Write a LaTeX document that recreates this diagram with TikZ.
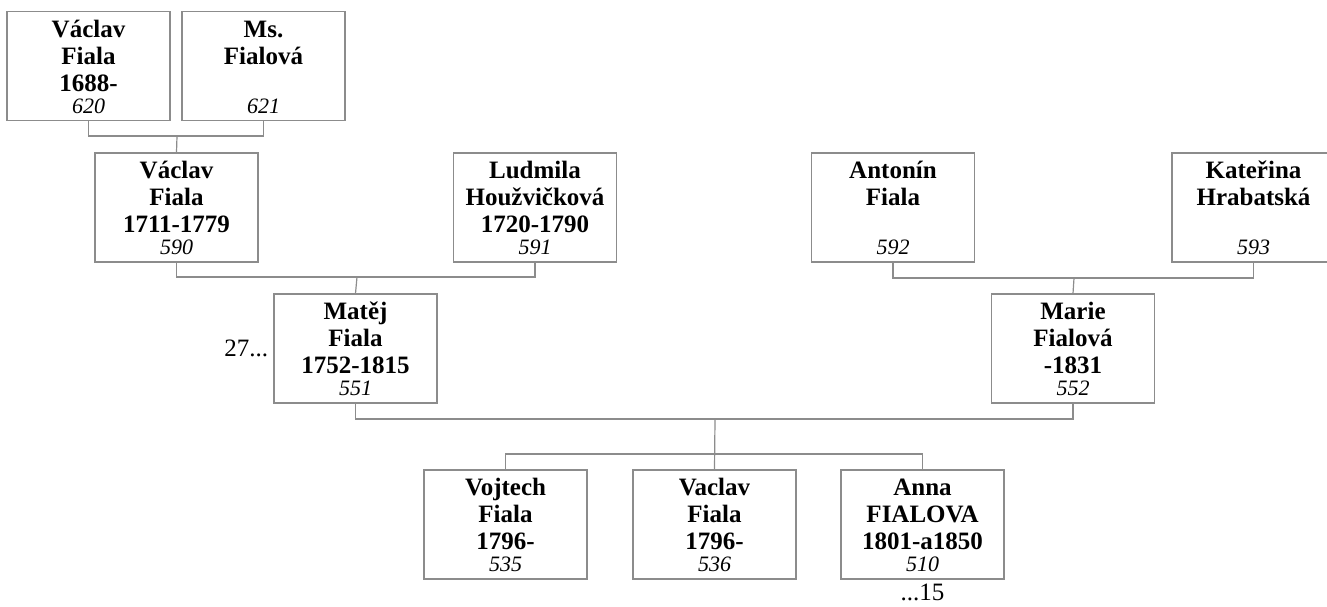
\documentclass[tikz,border=0pt]{standalone}
\usepackage{fontspec}
\setmainfont{Liberation Serif}
\usetikzlibrary{positioning}
\definecolor{cLine}{HTML}{8C8C8C}
\tikzset{
  person/.style={draw=cLine,line width=1.2pt,minimum width=163pt,
                 minimum height=109pt,inner sep=0pt,align=center,
                 font=\fontsize{25}{27}\selectfont\bfseries},
  link/.style={cLine,line width=1.2pt},
  note/.style={inner sep=0pt,font=\fontsize{25}{27}\selectfont},
}
\newcommand{\pers}[4]{\strut#1\\#2\\#3\\[-5pt]%
  {\mdseries\itshape\fontsize{22}{22}\selectfont#4}}

\begin{document}
\begin{tikzpicture}[x=1pt,y=-1pt]
  \useasboundingbox (0,0) rectangle (1327,606);
  % oldest couple
  \node[person] (v620) at (88.5,66)  {\pers{Václav}{Fiala}{1688-}{620}};
  \node[person] (m621) at (263.5,66) {\pers{Ms.}{Fialová}{}{621}};
  % grandparents
  \node[person] (v590) at (176.5,207.5) {\pers{Václav}{Fiala}{1711-1779}{590}};
  \node[person] (l591) at (535,207.5)   {\pers{Ludmila}{Houžvičková}{1720-1790}{591}};
  \node[person] (a592) at (893,207.5)   {\pers{Antonín}{Fiala}{}{592}};
  \node[person] (k593) at (1253.5,207.5){\pers{Kateřina}{Hrabatská}{}{593}};
  % parents
  \node[person] (m551) at (355.5,348.5) {\pers{Matěj}{Fiala}{1752-1815}{551}};
  \node[person] (m552) at (1073,348.5)  {\pers{Marie}{Fialová}{-1831}{552}};
  \node[note,left=5pt of m551] (more551) {27...};
  % children
  \node[person] (v535) at (505.5,524.5) {\pers{Vojtech}{Fiala}{1796-}{535}};
  \node[person] (v536) at (714.5,524.5) {\pers{Vaclav}{Fiala}{1796-}{536}};
  \node[person] (a510) at (922.5,524.5) {\pers{Anna}{FIALOVA}{1801-a1850}{510}};
  \node[note,below=4pt of a510] (more510) {...15};
  % links
  \coordinate (j620) at (177,136);
  \draw[link] (v620.south) |- (j620) -| (m621.south);
  \draw[link] (j620) -- (v590.north);
  \coordinate (j590) at (357,277);
  \draw[link] (v590.south) |- (j590) -| (l591.south);
  \draw[link] (j590) -- (m551.north);
  \coordinate (j592) at (1074,278);
  \draw[link] (a592.south) |- (j592) -| (k593.south);
  \draw[link] (j592) -- (m552.north);
  \coordinate (j551) at (715,419);
  \draw[link] (m551.south) |- (j551) -| (m552.south);
  \coordinate (kids) at (715,454);
  \draw[link] (j551) -- (v536.north);
  \draw[link] (v535.north) |- (kids) -| (a510.north);
\end{tikzpicture}
\end{document}
